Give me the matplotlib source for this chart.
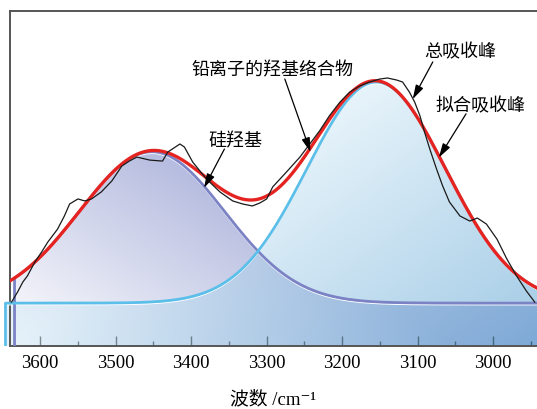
import numpy as np
import matplotlib
matplotlib.use("Agg")
import matplotlib.pyplot as plt
from matplotlib.patches import Polygon
from matplotlib.transforms import Bbox, TransformedBbox, offset_copy

# ---- measured O-H stretching band (wavenumber in cm-1, absorbance in a.u.) ----
wavenumber = [3638, 3630, 3623, 3617, 3607, 3598, 3590, 3577, 3568, 3561,
              3550, 3541, 3532, 3519, 3505, 3492, 3482, 3472, 3455, 3438,
              3431, 3415, 3409, 3398, 3380, 3362, 3345, 3332, 3319, 3309,
              3300, 3292, 3274, 3256, 3243, 3230, 3217, 3203, 3190, 3177,
              3164, 3150, 3140, 3128, 3120, 3111, 3104, 3097, 3091, 3084,
              3075, 3067, 3058, 3044, 3031, 3021, 3009, 2995, 2982, 2969,
              2956, 2945]
absorbance = [0.131, 0.161, 0.191, 0.209, 0.251, 0.281, 0.310, 0.349, 0.388, 0.424,
              0.439, 0.433, 0.439, 0.460, 0.493, 0.537, 0.552, 0.564, 0.555, 0.552,
              0.579, 0.603, 0.594, 0.549, 0.499, 0.460, 0.433, 0.424, 0.418, 0.427,
              0.439, 0.475, 0.519, 0.564, 0.603, 0.642, 0.687, 0.728, 0.758, 0.776,
              0.788, 0.797, 0.800, 0.794, 0.788, 0.758, 0.728, 0.687, 0.639, 0.588,
              0.528, 0.478, 0.430, 0.388, 0.373, 0.382, 0.364, 0.319, 0.260, 0.209,
              0.164, 0.131]

# ---- Gaussian components of the fit ----
peak_labels = ["硅羟基", "铅离子的羟基络合物"]
peak_center = [3452.0, 3155.0]
peak_sigma = [96.0, 92.0]
peak_height = [0.452, 0.660]
peak_start = [3634.0, 3646.0]
baseline = 0.128

x_ticks = [3600, 3500, 3400, 3300, 3200, 3100, 3000]
x_left, x_right = 3640.0, 2942.0

plt.rcParams["font.family"] = ["Liberation Serif", "Noto Sans CJK SC", "DejaVu Serif"]
cjk = ["Noto Sans CJK SC", "DejaVu Sans"]


def component(x, i):
    return baseline + peak_height[i] * np.exp(-(x - peak_center[i]) ** 2 / (2 * peak_sigma[i] ** 2))


def fitted(x):
    return component(x, 0) + component(x, 1) - baseline


fig = plt.figure(figsize=(5.37, 4.10), dpi=100)
ax = fig.add_axes([10 / 537, 63 / 410, 527 / 537, 335 / 410])
ax.set_xlim(x_left, x_right)
ax.set_ylim(0, 1)

# ---- gradient fills of the two components ----
nx, ny = 600, 360
img_x = np.linspace(3650, 2930, nx)
U, V = np.meshgrid((x_left - img_x) / (x_left - x_right), np.linspace(0, 1, ny))

p = np.clip((U + V) / 0.85, 0, 1)[..., None]
white = np.array([1.0, 1.0, 1.0])
lav = np.array([183, 189, 224]) / 255
img_purple = np.concatenate([white + p * (lav - white), np.ones((ny, nx, 1))], axis=2)

s = np.clip(U - 0.89 * V, 0, 1)[..., None]
c0 = np.array([205, 231, 245]) / 255
c1 = np.array([70, 150, 205]) / 255
img_cyan = np.concatenate([c0 + s * (c1 - c0), np.full((ny, nx, 1), 0.5)], axis=2)

clip_box = TransformedBbox(Bbox([[-0.02, 0], [1.0, 1.0]]), ax.transAxes)

edge_colors = ["#7b83c5", "#5cbfea"]
for i, img in enumerate([img_purple, img_cyan]):
    xc = np.linspace(peak_start[i], 2930, 500)
    yc = component(xc, i)
    verts = np.vstack([[peak_start[i], 0], np.column_stack([xc, yc]), [2930, 0]])
    patch = Polygon(verts, closed=True, transform=ax.transData,
                    facecolor="none", edgecolor="none")
    im = ax.imshow(img, extent=(3650, 2930, 0, 1), origin="lower",
                   aspect="auto", interpolation="bilinear", zorder=1 + i)
    im.set_clip_box(clip_box)
    im.set_clip_path(patch)

for i in range(2):
    xc = np.linspace(peak_start[i], 2930, 500)
    yc = component(xc, i)
    hl = offset_copy(ax.transData, fig=fig, y=-1.7, units="dots")
    ax.plot(xc, yc, color="white", lw=0.9, transform=hl, zorder=3, clip_on=False)
    ax.plot(np.r_[peak_start[i], xc], np.r_[0, yc], color=edge_colors[i],
            lw=2.0, zorder=4, clip_on=False, solid_capstyle="butt")

# ---- fitted envelope and measured spectrum ----
xf = np.linspace(x_left, x_right, 700)
ax.plot(xf, fitted(xf), color="#e52421", lw=2.4, zorder=5)
ax.plot(wavenumber, absorbance, color="#1a1a1a", lw=0.9, zorder=6)

# ---- labels with arrows ----
arrow = dict(arrowstyle="-|>,head_length=0.85,head_width=0.25", lw=0.9,
             color="black", shrinkA=0, shrinkB=0)
notes = [
    ("铅离子的羟基络合物", (3293, 0.827), (3276, 0.797), (3242, fitted(3242) - 0.012)),
    ("总吸收峰", (3044, 0.881), (3080, 0.848), (3106.6, 0.737)),
    ("拟合吸收峰", (3017, 0.719), (3036, 0.693), (3072, fitted(3072) - 0.005)),
    ("硅羟基", (3342, 0.615), (3356, 0.588), (3383, component(3383, 0) - 0.005)),
]
for text, pos, start, tip in notes:
    ax.text(pos[0], pos[1], text, ha="center", va="center", fontsize=13,
            family=cjk, zorder=8)
    ax.annotate("", xy=tip, xytext=start, arrowprops=arrow, zorder=8)

# ---- axes styling ----
for side in ["left", "top", "bottom"]:
    ax.spines[side].set_color("#555555")
    ax.spines[side].set_linewidth(1.4)
ax.spines["right"].set_visible(False)
ax.set_yticks([])
ax.set_xticks(x_ticks)
ax.set_xticks(np.arange(2950, 3650, 50), minor=True)
ax.tick_params(axis="x", which="major", direction="in", length=7.2, width=1.0,
               color="#333333", pad=6, labelsize=13.5)
ax.tick_params(axis="x", which="minor", direction="in", length=3.6, width=1.0,
               color="#333333")
ax.set_xlabel("波数 /cm⁻¹", fontsize=13.5, verticalalignment="center")
ax.xaxis.set_label_coords(0.5, -0.158)

fig.savefig("out.png", dpi=100)
